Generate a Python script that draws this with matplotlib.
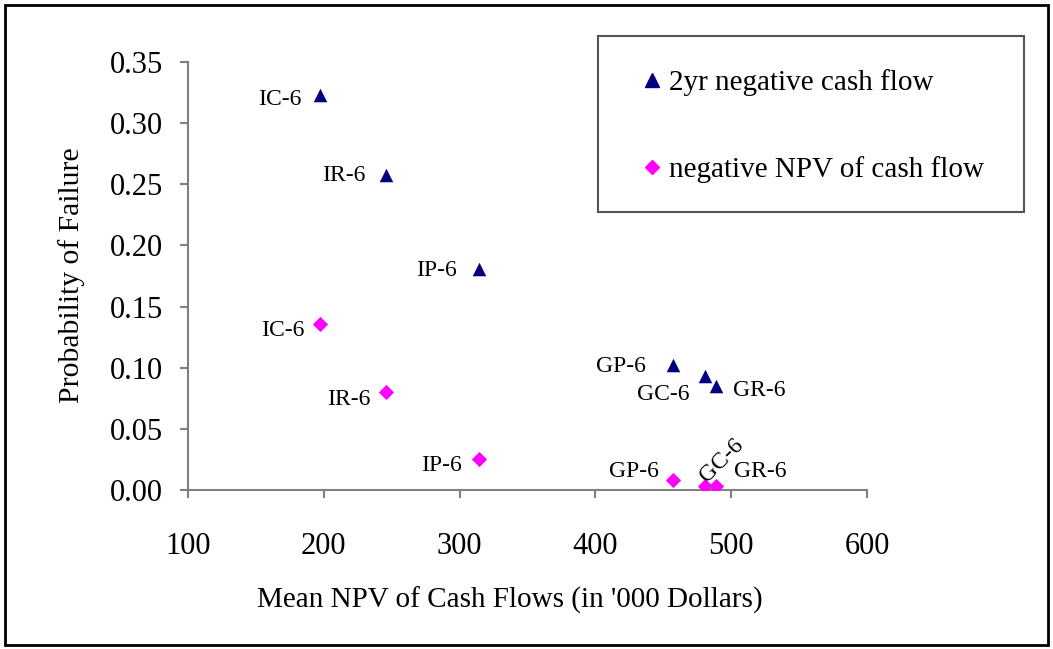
import matplotlib
matplotlib.use("Agg")
import matplotlib.pyplot as plt
from matplotlib.patches import Rectangle
from matplotlib.lines import Line2D

plt.rcParams['font.family'] = ['Liberation Serif', 'DejaVu Serif']

labels = ["IC-6", "IR-6", "IP-6", "GP-6", "GC-6", "GR-6"]
mean_npv = [197, 245.5, 314.5, 457.5, 481, 488.5]
p_2yr_neg = [0.323, 0.258, 0.181, 0.102, 0.093, 0.085]
p_neg_npv = [0.136, 0.080, 0.025, 0.008, 0.003, 0.003]

series1_name = "2yr negative cash flow"
series2_name = "negative NPV of cash flow"
x_ticks = [100, 200, 300, 400, 500, 600]
y_ticks = [0.00, 0.05, 0.10, 0.15, 0.20, 0.25, 0.30, 0.35]

W, H = 1053, 649
fig = plt.figure(figsize=(W / 100, H / 100), dpi=100)
ax = fig.add_axes([188 / W, 1 - 490 / H, (867 - 188) / W, (490 - 62) / H])

navy = "#000080"
mag = "#FF00FF"
ax.scatter(mean_npv, p_2yr_neg, marker="^", s=95, color=navy, zorder=3, linewidths=0)
ax.scatter(mean_npv, p_neg_npv, marker="D", s=60, color=mag, zorder=3, linewidths=0)

ax.set_xlim(100, 600)
ax.set_ylim(0, 0.35)
ax.set_xticks(x_ticks)
ax.set_yticks(y_ticks)
ax.set_xticklabels([str(v) for v in x_ticks])
ax.set_yticklabels([f"{v:.2f}" for v in y_ticks])

gray = "#808080"
for s in ["top", "right"]:
    ax.spines[s].set_visible(False)
for s in ["left", "bottom"]:
    ax.spines[s].set_color(gray)
    ax.spines[s].set_linewidth(1.5)
ax.tick_params(axis="both", colors=gray, labelcolor="black", length=6, width=1.5, direction="out")
ax.tick_params(axis="y", labelsize=22, pad=12)
ax.tick_params(axis="x", labelsize=22, pad=24)

ax.set_xlabel("Mean NPV of Cash Flows (in '000 Dollars)", fontsize=21)
ax.set_ylabel("Probability of Failure", fontsize=21.3)
ax.xaxis.set_label_coords(0.474, -0.225)
ax.yaxis.set_label_coords(-0.152, 0.503)

# point labels (offsets in pixels)
off1 = [(-18, -4, "right"), (-20, -1, "right"), (-22, -2, "right"),
        (-28, -1, "right"), (-16, -18, "right"), (17, -4, "left")]
for lab, x, y, (dx, dy, ha) in zip(labels, mean_npv, p_2yr_neg, off1):
    ax.annotate(lab, (x, y), xytext=(dx, dy), textcoords="offset pixels",
                ha=ha, va="center", fontsize=17)

off2 = [(-15, -7, "right", 0), (-15, -7, "right", 0), (-17, -6, "right", 0),
        (-15, 9, "right", 0), (16, 26, "center", 45), (18, 15, "left", 0)]
for lab, x, y, (dx, dy, ha, rot) in zip(labels, mean_npv, p_neg_npv, off2):
    ax.annotate(lab, (x, y), xytext=(dx, dy), textcoords="offset pixels",
                ha=ha, va="center", fontsize=17, rotation=rot,
                rotation_mode="anchor" if rot == 0 else "default")

# legend
handles = [Line2D([], [], marker="^", linestyle="none", color=navy, markersize=10),
           Line2D([], [], marker="D", linestyle="none", color=mag, markersize=7)]
fig.patches.append(Rectangle((598 / W, 1 - 212 / H), (1024 - 598) / W, (212 - 36) / H,
                             transform=fig.transFigure, fill=False,
                             edgecolor="#555555", linewidth=1.5))
fig.legend(handles, [series1_name, series2_name], loc="upper left",
           bbox_to_anchor=(643 / W, 1 - 69 / H), frameon=False, fontsize=21,
           handlelength=0.6, handletextpad=0.3, labelspacing=2.05, borderpad=0,
           borderaxespad=0)

# outer border
fig.patches.append(Rectangle((5 / W, 4 / H), (1048 - 5) / W, (645 - 5) / H,
                             transform=fig.transFigure, fill=False,
                             edgecolor="black", linewidth=2))

fig.savefig("out.png", dpi=100)
